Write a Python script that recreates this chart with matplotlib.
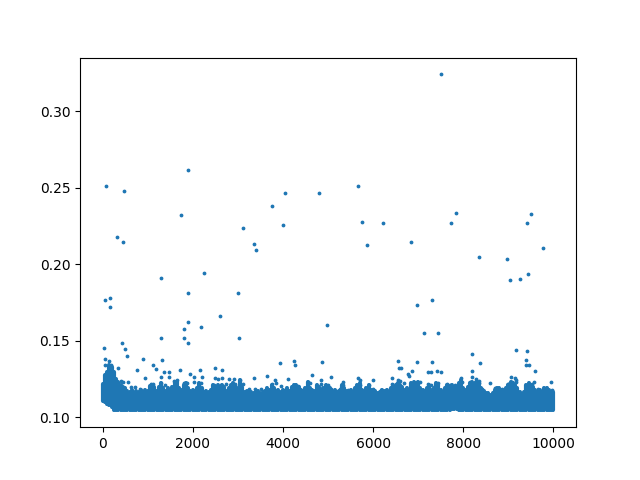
"""Scatter of values against sample index: a dense band near 0.11 with sparse outliers."""

import matplotlib
matplotlib.use('Agg')
import matplotlib.pyplot as plt

# Dense band read column by column, one column every 50 samples.
band_x = [
    0, 50, 100, 150, 200, 250, 300, 350, 400, 450,
    500, 550, 600, 650, 700, 750, 800, 850, 900, 950,
    1000, 1050, 1100, 1150, 1200, 1250, 1300, 1350, 1400, 1450,
    1500, 1550, 1600, 1650, 1700, 1750, 1800, 1850, 1900, 1950,
    2000, 2050, 2100, 2150, 2200, 2250, 2300, 2350, 2400, 2450,
    2500, 2550, 2600, 2650, 2700, 2750, 2800, 2850, 2900, 2950,
    3000, 3050, 3100, 3150, 3200, 3250, 3300, 3350, 3400, 3450,
    3500, 3550, 3600, 3650, 3700, 3750, 3800, 3850, 3900, 3950,
    4000, 4050, 4100, 4150, 4200, 4250, 4300, 4350, 4400, 4450,
    4500, 4550, 4600, 4650, 4700, 4750, 4800, 4850, 4900, 4950,
    5000, 5050, 5100, 5150, 5200, 5250, 5300, 5350, 5400, 5450,
    5500, 5550, 5600, 5650, 5700, 5750, 5800, 5850, 5900, 5950,
    6000, 6050, 6100, 6150, 6200, 6250, 6300, 6350, 6400, 6450,
    6500, 6550, 6600, 6650, 6700, 6750, 6800, 6850, 6900, 6950,
    7000, 7050, 7100, 7150, 7200, 7250, 7300, 7350, 7400, 7450,
    7500, 7550, 7600, 7650, 7700, 7750, 7800, 7850, 7900, 7950,
    8000, 8050, 8100, 8150, 8200, 8250, 8300, 8350, 8400, 8450,
    8500, 8550, 8600, 8650, 8700, 8750, 8800, 8850, 8900, 8950,
    9000, 9050, 9100, 9150, 9200, 9250, 9300, 9350, 9400, 9450,
    9500, 9550, 9600, 9650, 9700, 9750, 9800, 9850, 9900, 9950,
    10000,
]
band_top = [
    .1220, .1280, .1300, .1340, .1330, .1300, .1250, .1230, .1215, .1200,
    .1190, .1175, .1168, .1180, .1160, .1175, .1165, .1180, .1168, .1180,
    .1170, .1205, .1212, .1200, .1175, .1200, .1223, .1190, .1175, .1190,
    .1168, .1200, .1234, .1234, .1190, .1180, .1212, .1223, .1190, .1170,
    .1180, .1170, .1190, .1223, .1190, .1165, .1175, .1168, .1180, .1212,
    .1201, .1212, .1201, .1212, .1201, .1175, .1190, .1212, .1223, .1200,
    .1180, .1245, .1200, .1168, .1175, .1160, .1168, .1157, .1168, .1175,
    .1160, .1168, .1175, .1190, .1180, .1212, .1190, .1170, .1180, .1168,
    .1180, .1170, .1190, .1175, .1201, .1212, .1212, .1201, .1180, .1175,
    .1190, .1234, .1190, .1180, .1175, .1212, .1200, .1180, .1190, .1212,
    .1201, .1190, .1168, .1180, .1165, .1175, .1212, .1190, .1175, .1168,
    .1180, .1160, .1190, .1212, .1223, .1180, .1170, .1190, .1212, .1180,
    .1165, .1175, .1160, .1168, .1179, .1175, .1179, .1168, .1190, .1212,
    .1200, .1223, .1212, .1200, .1180, .1190, .1175, .1223, .1234, .1223,
    .1234, .1190, .1180, .1175, .1190, .1212, .1180, .1190, .1223, .1212,
    .1180, .1168, .1190, .1212, .1201, .1212, .1190, .1201, .1223, .1245,
    .1190, .1180, .1201, .1223, .1234, .1223, .1212, .1223, .1190, .1175,
    .1157, .1160, .1146, .1157, .1179, .1190, .1190, .1179, .1168, .1190,
    .1212, .1234, .1223, .1212, .1190, .1168, .1146, .1168, .1212, .1223,
    .1212, .1201, .1179, .1168, .1179, .1168, .1190, .1190, .1179, .1168,
    .1168,
]
band_low = [
    .1110, .1100, .1090, .1080, .1065, .1046, .1046, .1046, .1046, .1046,
    .1046, .1046, .1046, .1046, .1046, .1046, .1046, .1046, .1046, .1046,
    .1046, .1046, .1046, .1046, .1046, .1046, .1046, .1046, .1046, .1046,
    .1046, .1046, .1046, .1046, .1046, .1046, .1046, .1046, .1046, .1046,
    .1046, .1046, .1046, .1046, .1046, .1046, .1046, .1046, .1046, .1046,
    .1046, .1046, .1046, .1046, .1046, .1046, .1046, .1046, .1046, .1046,
    .1046, .1046, .1046, .1046, .1046, .1046, .1046, .1046, .1046, .1046,
    .1046, .1046, .1046, .1046, .1046, .1046, .1046, .1046, .1046, .1046,
    .1046, .1046, .1046, .1046, .1046, .1046, .1046, .1046, .1046, .1046,
    .1046, .1046, .1046, .1046, .1046, .1046, .1046, .1046, .1046, .1046,
    .1046, .1046, .1046, .1046, .1046, .1046, .1046, .1046, .1046, .1046,
    .1046, .1046, .1046, .1046, .1046, .1046, .1046, .1046, .1046, .1046,
    .1046, .1046, .1046, .1046, .1046, .1046, .1046, .1046, .1046, .1046,
    .1046, .1046, .1046, .1046, .1046, .1046, .1046, .1046, .1046, .1046,
    .1046, .1046, .1046, .1046, .1046, .1046, .1046, .1046, .1046, .1046,
    .1046, .1046, .1046, .1046, .1050, .1056, .1058, .1056, .1050, .1046,
    .1046, .1046, .1046, .1046, .1046, .1046, .1046, .1046, .1046, .1046,
    .1046, .1046, .1046, .1046, .1046, .1046, .1046, .1046, .1046, .1046,
    .1046, .1046, .1046, .1046, .1046, .1046, .1046, .1046, .1046, .1046,
    .1046, .1046, .1046, .1046, .1046, .1046, .1046, .1046, .1046, .1046,
    .1046,
]

# Single points standing clear of the band.
point_x = [
    7516, 1889, 67, 467, 4045, 4800, 3756, 1734, 4000, 3111, 311, 444, 3356, 3400,
    2244, 1289, 1889, 3000, 156, 44, 156, 2607, 4978, 1889, 2178, 1800, 1289, 1800,
    3022, 1889, 422, 22, 489, 5667, 5756, 6222, 5867, 6844, 7844, 7733, 9511, 9407,
    9778, 8356, 8978, 9044, 9267, 9444, 7311, 6978, 7133, 7444, 9178, 9422,
    533, 44, 44, 150, 190, 333, 889, 1311, 1111, 756, 1178, 933, 1356, 1467, 1289,
    1467, 1711, 1933, 2022, 2156, 2200, 2489, 2644, 2489, 2556, 2644, 2800, 2911,
    3356, 3644, 3822, 3933, 4244, 4267, 4111, 4644, 4867, 4844,
    5067, 5333, 5667, 5711, 6000, 6422, 6556, 6578, 6622, 6978, 6867, 6778, 6800,
    6556, 7311, 7222, 7289, 7422, 7511, 8200, 8378, 8200, 8200, 7956, 7956, 8289,
    8356, 8600, 9400, 9400, 9467, 9600, 9578, 9956, 9067, 9156, 9178, 9000,
    # points sitting on the top edge of the band
    407, 444, 556, 630, 726, 837, 1074, 1126, 1296, 1393, 1578, 1652, 1800, 1874,
    2037, 2185, 2481, 2630, 2741, 2874, 2948, 3052, 3111, 3259, 3385, 3519, 3763,
    3852, 3963, 4259, 4333, 4556, 4593, 4852, 5000,
    5074, 5333, 5259, 5444, 5593, 5704, 5911, 6000, 6185, 6296, 6422, 6504, 6593,
    6681, 6852, 6963, 7037, 7222, 7274, 7444, 7630, 7704, 7815, 7963, 8156, 8281,
    8348, 8422, 8704, 8852, 9000, 9074, 9170, 9444, 9519, 9667, 9830, 9963,
]
point_y = [
    .3242, .2617, .2512, .2479, .2466, .2466, .2381, .2322, .2256, .2236, .2178, .2145, .2132, .2092,
    .1942, .1909, .1811, .1811, .1778, .1765, .1725, .1660, .1607, .1621, .1588, .1581, .1516, .1522,
    .1522, .1489, .1489, .1457, .1450, .2512, .2276, .2269, .2125, .2145, .2335, .2269, .2328, .2269,
    .2105, .2047, .2033, .1896, .1902, .1935, .1765, .1732, .1555, .1555, .1444, .1431,
    .1404, .1385, .1345, .1370, .1340, .1326, .1385, .1378, .1345, .1313, .1319, .1260, .1300, .1300, .1267,
    .1267, .1313, .1286, .1267, .1313, .1267, .1326, .1313, .1260, .1254, .1260, .1254, .1254,
    .1260, .1273, .1247, .1358, .1371, .1345, .1254, .1280, .1365, .1247,
    .1267, .1234, .1260, .1243, .1247, .1260, .1371, .1326, .1326, .1365, .1306, .1286, .1273,
    .1247, .1365, .1299, .1299, .1306, .1299, .1417, .1358, .1306, .1267, .1260, .1231, .1254,
    .1241, .1227, .1378, .1345, .1345, .1306, .1231, .1234, .1267, .1260, .1247, .1220,
    # points sitting on the top edge of the band
    .1238, .1232, .1232, .1199, .1199, .1184, .1221, .1216, .1225, .1210, .1238, .1243, .1228, .1228,
    .1232, .1225, .1210, .1214, .1216, .1221, .1221, .1247, .1221, .1184, .1188, .1188, .1221,
    .1228, .1204, .1210, .1204, .1232, .1225, .1221, .1210,
    .1188, .1210, .1188, .1182, .1182, .1210, .1214, .1188, .1182, .1182, .1216, .1221, .1238,
    .1228, .1221, .1232, .1232, .1216, .1214, .1228, .1221, .1214, .1210, .1232, .1229, .1238,
    .1225, .1188, .1192, .1188, .1221, .1232, .1232, .1216, .1221, .1188, .1192, .1177,
]

fig, ax = plt.subplots(figsize=(6.4, 4.8), dpi=100)
ax.vlines(band_x, band_low, band_top, color='C0', linewidth=3.0, capstyle='round')
ax.scatter(point_x, point_y, s=3)
fig.savefig('out.png')
